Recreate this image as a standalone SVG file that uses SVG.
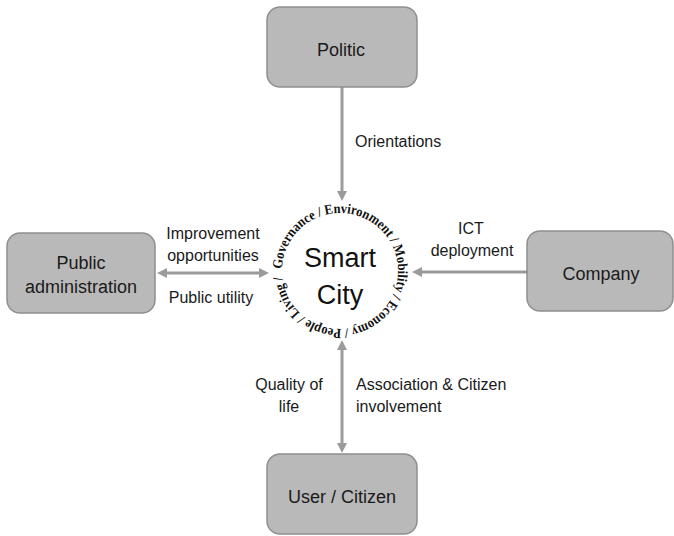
<svg xmlns="http://www.w3.org/2000/svg" width="674" height="536" viewBox="0 0 674 536">
<style>
.box{fill:#b9b9b9;stroke:#8f8f8f;stroke-width:1.5}
.bt{font-family:"Liberation Sans",Arial,sans-serif;font-size:18px;fill:#1a1a1a;text-anchor:middle}
.lb{font-family:"Liberation Sans",Arial,sans-serif;font-size:16px;fill:#1a1a1a}
.mid{text-anchor:middle}
.con{stroke:#9b9b9b;stroke-width:3;fill:none}
.ring{font-family:"Liberation Serif","Times New Roman",serif;font-weight:bold;font-size:14px;fill:#111}
.sc{font-family:"Liberation Sans",Arial,sans-serif;font-size:27px;fill:#111;text-anchor:middle}
</style>
<defs>
<marker id="ah" viewBox="0 0 10 10" refX="5" refY="5" markerWidth="10" markerHeight="10" markerUnits="userSpaceOnUse" orient="auto-start-reverse">
<path d="M0,0 L10,5 L0,10 z" fill="#9b9b9b"/>
</marker>
<path id="ringPath" d="M282,271 A58,58 0 0 1 398,271 A58,58 0 0 1 282,271"/>
</defs>
<g id="connectors">
<path class="con" d="M342,87 L342,196" marker-end="url(#ah)"/>
<path class="con" d="M162,273 L264,273" marker-start="url(#ah)" marker-end="url(#ah)"/>
<path class="con" d="M527,272 L417,272" marker-end="url(#ah)"/>
<path class="con" d="M342,345 L342,448" marker-start="url(#ah)" marker-end="url(#ah)"/>
<text class="lb" x="355" y="147">Orientations</text>
<text class="lb mid" x="213" y="239">Improvement</text>
<text class="lb mid" x="213" y="261">opportunities</text>
<text class="lb mid" x="211" y="303">Public utility</text>
<text class="lb mid" x="471" y="234">ICT</text>
<text class="lb mid" x="472" y="256">deployment</text>
<text class="lb mid" x="289" y="390">Quality of</text>
<text class="lb mid" x="289" y="412">life</text>
<text class="lb" x="356" y="390">Association &amp; Citizen</text>
<text class="lb" x="356" y="412">involvement</text>
</g>
<g id="smartcity">
<text class="ring" textLength="356" lengthAdjust="spacingAndGlyphs"><textPath href="#ringPath" startOffset="2" textLength="356" lengthAdjust="spacingAndGlyphs">Governance / Environment / Mobility / Economy / People / Living /</textPath></text>
<text class="sc" x="340" y="267">Smart</text>
<text class="sc" x="340" y="304">City</text>
</g>
<g id="politic">
<rect class="box" x="267" y="7" width="150" height="80" rx="13"/>
<text class="bt" x="341" y="56">Politic</text>
</g>
<g id="public-administration">
<rect class="box" x="7" y="233" width="148" height="80" rx="13"/>
<text class="bt" x="81" y="269">Public</text>
<text class="bt" x="81" y="293">administration</text>
</g>
<g id="company">
<rect class="box" x="527" y="231" width="146" height="80" rx="13"/>
<text class="bt" x="601" y="280">Company</text>
</g>
<g id="user-citizen">
<rect class="box" x="267" y="454" width="150" height="80" rx="13"/>
<text class="bt" x="342" y="503">User / Citizen</text>
</g>
</svg>
